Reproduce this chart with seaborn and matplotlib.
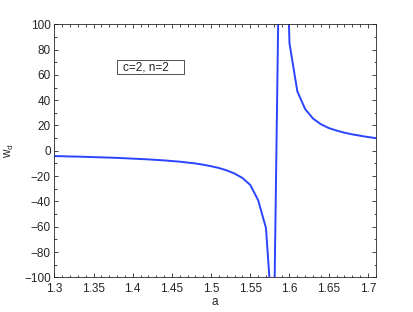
import numpy as np
import pandas as pd
import seaborn as sns
import matplotlib.pyplot as plt
from matplotlib.patches import Rectangle
from matplotlib.ticker import MultipleLocator

# sampled curve, step 0.01 in a
a_vals = [1.30, 1.31, 1.32, 1.33, 1.34, 1.35, 1.36, 1.37, 1.38, 1.39,
          1.40, 1.41, 1.42, 1.43, 1.44, 1.45, 1.46, 1.47, 1.48, 1.49,
          1.50, 1.51, 1.52, 1.53, 1.54, 1.55, 1.56, 1.57, 1.58, 1.59,
          1.60, 1.61, 1.62, 1.63, 1.64, 1.65, 1.66, 1.67, 1.68, 1.69,
          1.70, 1.71]
wd_vals = [-4.2, -4.3, -4.5, -4.6, -4.8, -5.0, -5.2, -5.4, -5.6, -5.9,
           -6.2, -6.5, -6.8, -7.2, -7.6, -8.1, -8.6, -9.3, -10.0, -11.0,
           -12.2, -13.6, -15.5, -18.0, -21.5, -27.0, -39.0, -61.0, -150.0, 300.0,
           85.0, 47.0, 33.0, 25.5, 21.0, 18.0, 16.0, 14.3, 13.0, 11.9,
           10.9, 10.0]
label_text = "c=2, n=2"

sns.set_style("ticks")
plt.rcParams["font.family"] = ["Liberation Sans", "DejaVu Sans"]
plt.rcParams["mathtext.fontset"] = "custom"
plt.rcParams["mathtext.rm"] = "Liberation Sans"

df = pd.DataFrame({"a": a_vals, "wd": wd_vals})

fig = plt.figure(figsize=(4.14, 3.12), dpi=100)
ax = fig.add_axes([0.1312, 0.1112, 0.7763, 0.811])
sns.lineplot(data=df, x="a", y="wd", sort=False, estimator=None,
             color="#2b44ff", linewidth=1.4, ax=ax)

ax.set_xlim(1.3, 1.71)
ax.set_ylim(-100, 100)
ax.set_xticks(np.arange(1.3, 1.701, 0.05))
ax.set_xticklabels(["1.3", "1.35", "1.4", "1.45", "1.5", "1.55", "1.6", "1.65", "1.7"])
ax.set_yticks(np.arange(-100, 101, 20))
ax.set_yticklabels([str(v).replace("-", "\u2212") for v in range(-100, 101, 20)])
ax.xaxis.set_minor_locator(MultipleLocator(0.01))
ax.yaxis.set_minor_locator(MultipleLocator(10))
ax.tick_params(which="both", direction="in", top=True, right=True,
               labelsize=8.5, width=0.6)
ax.tick_params(axis="x", which="major", pad=4)
ax.tick_params(axis="y", which="major", pad=2.5)
ax.tick_params(which="major", length=2.6)
ax.tick_params(which="minor", length=1.8)
for s in ax.spines.values():
    s.set_linewidth(0.6)
    s.set_visible(True)

ax.set_xlabel("a", fontsize=8.5, labelpad=1)
ax.set_ylabel(r"w$_\mathregular{d}$", fontsize=8.5, labelpad=6)

fig.patches.append(Rectangle((0.2833, 0.7619), 0.1618, 0.0458,
                             transform=fig.transFigure, fill=False,
                             edgecolor="#333333", linewidth=0.6))
fig.text(0.2964, 0.7846, label_text, fontsize=8.5, va="center", ha="left")

fig.savefig("out.png", dpi=100)
plt.close(fig)
